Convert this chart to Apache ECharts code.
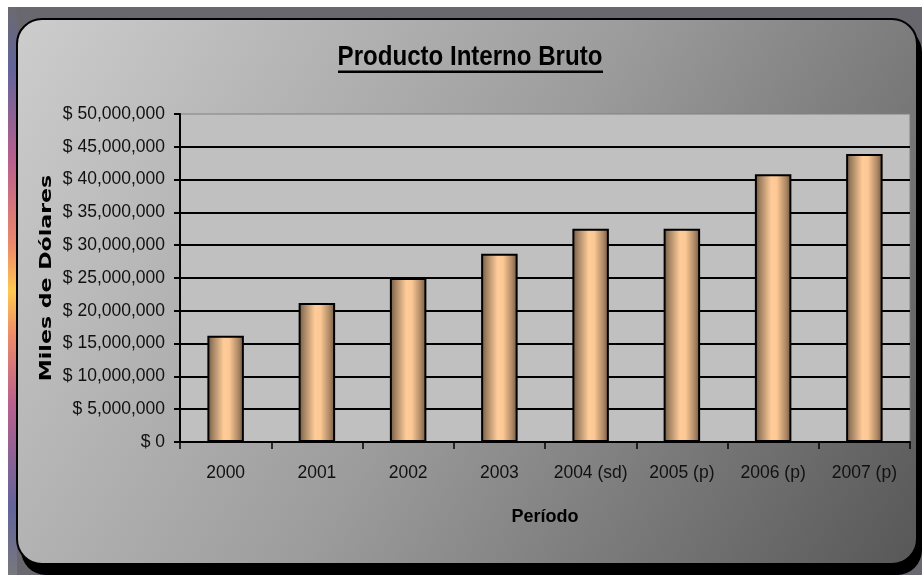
<!DOCTYPE html>
<html>
<head>
<meta charset="utf-8">
<title>Producto Interno Bruto</title>
<script src="https://cdn.jsdelivr.net/npm/echarts@6/dist/echarts.min.js"></script>
<style>
  html, body { margin: 0; padding: 0; background: #fff; }
  #chart { width: 922px; height: 575px; }
</style>
</head>
<body>
<div id="chart"></div>
<script>
// periodos y PIB (miles de dólares)
var periodos = ["2000", "2001", "2002", "2003", "2004 (sd)", "2005 (p)", "2006 (p)", "2007 (p)"];
var pib = [16200000, 21200000, 25000000, 28700000, 32500000, 32500000, 40800000, 43900000];
var tituloTexto = "Producto Interno Bruto";
var ejeY = "Miles de Dólares";
var ejeX = "Período";

function formatoDolar(v) {
  return "$ " + v.toString().replace(/\B(?=(\d{3})+(?!\d))/g, ",");
}

var myChart = echarts.init(document.getElementById("chart"));

var option = {
  animation: false,
  backgroundColor: "#fff",
  graphic: [
    // fondo de la diapositiva
    { type: "rect", z: -10, shape: { x: 8, y: 7, width: 914, height: 568 }, style: { fill: "#68686e" } },
    {
      type: "rect", z: -10, shape: { x: 8, y: 7, width: 9, height: 568 },
      style: {
        fill: {
          type: "linear", x: 0, y: 0, x2: 0, y2: 1,
          colorStops: [
            { offset: 0, color: "#6a6a70" },
            { offset: 0.11, color: "#62649a" },
            { offset: 0.27, color: "#b8608e" },
            { offset: 0.42, color: "#ec8a6a" },
            { offset: 0.5, color: "#ffc850" },
            { offset: 0.58, color: "#ec8a6a" },
            { offset: 0.7, color: "#b8608e" },
            { offset: 0.88, color: "#62649a" },
            { offset: 1, color: "#78787e" }
          ]
        }
      }
    },
    // sombra y area del grafico
    { type: "rect", z: -9, shape: { x: 21, y: 27, width: 901, height: 548, r: 25 }, style: { fill: "#000" } },
    {
      type: "rect", z: -8, shape: { x: 17, y: 19, width: 900, height: 545, r: 25 },
      style: {
        stroke: "#000", lineWidth: 2,
        fill: {
          type: "linear", x: 0, y: 0, x2: 1, y2: 1,
          colorStops: [
            { offset: 0, color: "#cdcdcd" },
            { offset: 0.5, color: "#9c9c9c" },
            { offset: 1, color: "#575757" }
          ]
        }
      }
    },
    // titulo subrayado
    {
      type: "text", z: 100, x: 470, y: 57, scaleX: 0.86,
      style: {
        text: tituloTexto, fill: "#000",
        font: "bold 28px 'Liberation Sans', Arial, sans-serif",
        textAlign: "center", textVerticalAlign: "middle"
      }
    },
    { type: "rect", z: 100, shape: { x: 338, y: 70.5, width: 265, height: 2.5 }, style: { fill: "#000" } },
    // titulo eje Y
    {
      type: "text", z: 100, x: 47, y: 278, rotation: Math.PI / 2, scaleX: 1.38,
      style: {
        text: ejeY, fill: "#000",
        font: "bold 16px 'DejaVu Sans', Verdana, sans-serif",
        textAlign: "center", textVerticalAlign: "middle"
      }
    }
  ],
  grid: {
    left: 180,
    right: 12,
    top: 114,
    bottom: 133,
    show: true,
    backgroundColor: "#c0c0c0",
    borderColor: "#808080",
    borderWidth: 1
  },
  xAxis: {
    type: "category",
    data: periodos,
    name: ejeX,
    nameLocation: "middle",
    nameGap: 66,
    nameTextStyle: { color: "#000", fontFamily: "Liberation Sans", fontWeight: "bold", fontSize: 18 },
    axisLine: { lineStyle: { color: "#000", width: 2 } },
    axisTick: { show: true, interval: 0, length: 7, lineStyle: { color: "#000", width: 1.5 } },
    axisLabel: { interval: 0, color: "#111", fontFamily: "Liberation Sans", fontSize: 17.5, margin: 22 }
  },
  yAxis: {
    type: "value",
    min: 0,
    max: 50000000,
    interval: 5000000,
    axisLine: { show: true, lineStyle: { color: "#000", width: 2 } },
    axisTick: { show: true, length: 6, lineStyle: { color: "#000", width: 2 } },
    axisLabel: {
      color: "#111", fontFamily: "Liberation Sans", fontSize: 17.5, margin: 15,
      formatter: formatoDolar
    },
    splitLine: { show: true, showMaxLine: false, lineStyle: { color: "#000", width: 2 } }
  },
  series: [
    {
      name: tituloTexto,
      type: "bar",
      data: pib,
      barWidth: "40%",
      itemStyle: {
        borderColor: "#000",
        borderWidth: 2,
        color: {
          type: "linear", x: 0, y: 0, x2: 1, y2: 0,
          colorStops: [
            { offset: 0, color: "#6e5640" },
            { offset: 0.15, color: "#a38363" },
            { offset: 0.45, color: "#ffcc99" },
            { offset: 0.6, color: "#fcc894" },
            { offset: 0.85, color: "#ad8865" },
            { offset: 1, color: "#6e5640" }
          ]
        }
      }
    }
  ]
};

myChart.setOption(option);
</script>
</body>
</html>
